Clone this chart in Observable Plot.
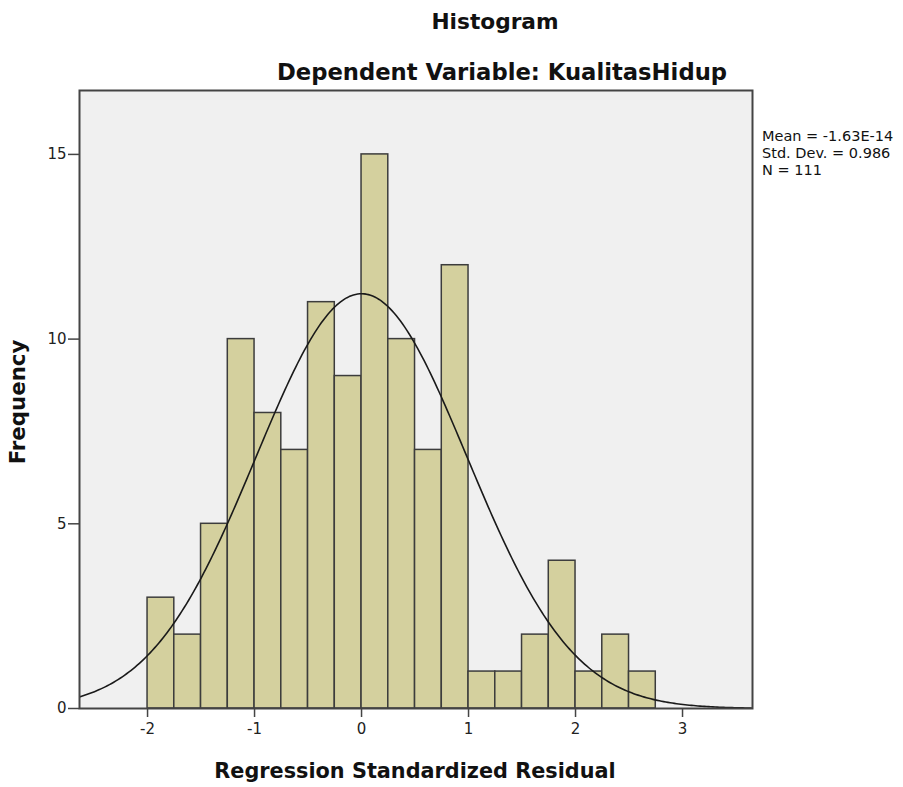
<!DOCTYPE html>
<html><head><meta charset="utf-8">
<script src="https://cdn.jsdelivr.net/npm/d3@7"></script>
<script src="https://cdn.jsdelivr.net/npm/@observablehq/plot@0.6"></script>
<style>
body{margin:0;background:#fff;font-family:"DejaVu Sans",sans-serif;}
#wrap{position:relative;width:903px;height:787px;overflow:hidden;}
#wrap svg{position:absolute;left:0;top:0;}
.t{position:absolute;white-space:nowrap;color:#111;line-height:1;}
</style></head><body><div id="wrap"></div>
<script>
// ---- data ----
const binStarts = [-2, -1.75, -1.5, -1.25, -1, -0.75, -0.5, -0.25, 0, 0.25, 0.5, 0.75, 1, 1.25, 1.5, 1.75, 2, 2.25, 2.5];
const counts    = [3, 2, 5, 10, 8, 7, 11, 9, 15, 10, 7, 12, 1, 1, 2, 4, 1, 2, 1];
const binWidth = 0.25;
const xTicks = [-2, -1, 0, 1, 2, 3];
const yTicks = [0, 5, 10, 15];
const statLabels = ["Mean = -1.63E-14", "Std. Dev. = 0.986", "N = 111"];
const statMean = -1.63e-14, statSd = 0.986, statN = 111;
const xDomain = [-2.636, 3.654];
const yDomain = [0, 16.73];
const titleText = "Histogram";
const subtitleText = "Dependent Variable: KualitasHidup";
const xLabel = "Regression Standardized Residual";
const yLabel = "Frequency";

const bars = binStarts.map((x0, i) => ({x0, x1: x0 + binWidth, count: counts[i]}));
// fitted normal curve defined by the stats shown in the chart
const curve = d3.range(xDomain[0], xDomain[1] + 0.001, 0.02).map(x => ({
  x,
  y: statN * binWidth * Math.exp(-0.5 * ((x - statMean) / statSd) ** 2) / (statSd * Math.sqrt(2 * Math.PI))
}));

const plot = Plot.plot({
  width: 903, height: 787,
  marginLeft: 79, marginRight: 151, marginTop: 90, marginBottom: 79,
  style: {fontFamily: "'DejaVu Sans', sans-serif", fontSize: "15px", color: "#222", background: "transparent"},
  x: {domain: xDomain},
  y: {domain: yDomain},
  marks: [
    Plot.frame({fill: "#f0f0f0", stroke: "none"}),
    Plot.rectY(bars, {x1: "x0", x2: "x1", y1: 0, y2: "count", fill: "#d4d09e", stroke: "#3c3c3c", strokeWidth: 1.5}),
    Plot.line(curve, {x: "x", y: "y", stroke: "#1a1a1a", strokeWidth: 1.6, clip: true}),
    Plot.frame({stroke: "#444", strokeWidth: 2}),
    Plot.axisX({ticks: xTicks, tickSize: 9, tickPadding: 6, tickFormat: d => String(d), label: null, fontSize: 15, stroke: "#444", strokeWidth: 1.5}),
    Plot.axisY({ticks: yTicks, tickSize: 11, tickPadding: 2, tickFormat: d => String(d), label: null, fontSize: 15, stroke: "#444", strokeWidth: 1.5})
  ]
});

const wrap = document.getElementById("wrap");
wrap.appendChild(plot);

function addText(txt, css) {
  const d = document.createElement("div");
  d.className = "t";
  d.textContent = txt;
  Object.assign(d.style, css);
  wrap.appendChild(d);
  return d;
}
addText(titleText, {left: "495px", top: "10.6px", fontSize: "21.7px", fontWeight: "bold", transform: "translateX(-50%)"});
addText(subtitleText, {left: "502px", top: "60.8px", fontSize: "22.7px", fontWeight: "bold", transform: "translateX(-50%)"});
statLabels.forEach((s, i) => addText(s, {left: "762px", top: (128 + i * 17) + "px", fontSize: "14.5px", lineHeight: "17px"}));
addText(xLabel, {left: "415px", top: "760.5px", fontSize: "20.8px", fontWeight: "bold", transform: "translateX(-50%)"});
addText(yLabel, {left: "18px", top: "402px", fontSize: "21.3px", fontWeight: "bold", transform: "translate(-50%,-50%) rotate(-90deg)"});
</script></body></html>
